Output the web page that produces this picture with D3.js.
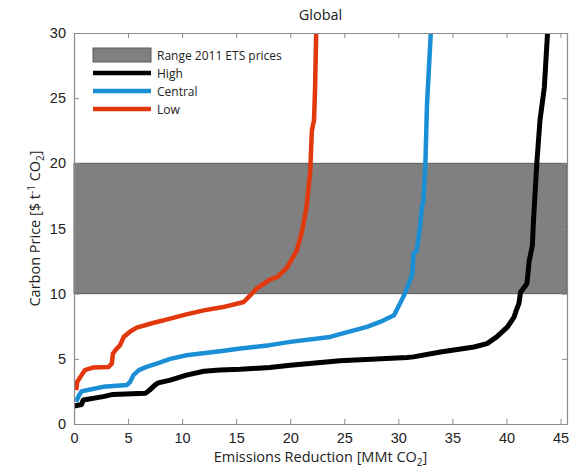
<!DOCTYPE html>
<html>
<head>
<meta charset="utf-8">
<script src="https://cdn.jsdelivr.net/npm/d3@7"></script>
<style>
  body { margin: 0; background: #fff; }
  svg text { font-family: "Open Sans", "Noto Sans", sans-serif; fill: #222; }
  .tick-label { font-family: "Liberation Sans", Arial, sans-serif; font-size: 14.5px; }
</style>
</head>
<body>
<div id="chart"></div>
<script>
// Dữ liệu (x = giảm phát thải MMt CO2, y = giá carbon $/t CO2)
const seriesNames = ['High', 'Central', 'Low'];
const seriesColors = ['#000000', '#1a8fd5', '#e2380e'];

const highX = [0, 0.7, 0.86, 2.7, 3.6, 6.6, 7.0, 7.5, 7.8, 8.9, 10.4, 12.0, 13.5, 15.4, 18.1, 20.0, 24.6, 30.8, 31.4, 33.9, 37.0, 38.2, 39.1, 40.1, 40.7, 40.9, 41.15, 41.3, 41.75, 41.9, 42.1, 42.4, 42.5, 42.8, 43.1, 43.5, 43.8];
const highY = [1.38, 1.5, 1.84, 2.1, 2.27, 2.35, 2.6, 3.0, 3.16, 3.37, 3.75, 4.05, 4.15, 4.2, 4.34, 4.5, 4.85, 5.1, 5.15, 5.53, 5.91, 6.17, 6.68, 7.45, 8.2, 8.7, 9.23, 10.1, 10.6, 10.8, 12.5, 13.7, 15.6, 19.9, 23.3, 25.8, 30];

const centralX = [0.2, 0.4, 0.7, 1.5, 2.7, 4.9, 5.2, 5.5, 6.0, 6.7, 7.65, 8.9, 10.4, 13.5, 15.4, 18.1, 20.0, 23.7, 24.6, 27.1, 28.3, 29.6, 30.3, 30.6, 31.3, 31.4, 31.7, 32.0, 32.2, 32.3, 32.5, 32.65, 33.0];
const centralY = [1.7, 2.1, 2.5, 2.65, 2.85, 3.0, 3.24, 3.75, 4.13, 4.38, 4.64, 5.0, 5.28, 5.59, 5.79, 6.05, 6.3, 6.68, 6.89, 7.45, 7.83, 8.34, 9.49, 10.0, 11.5, 13.06, 13.3, 15.1, 16.8, 16.9, 19.9, 24.5, 30];

const lowX = [0.2, 0.3, 0.7, 1.0, 1.8, 3.2, 3.5, 3.6, 3.95, 4.26, 4.6, 5.2, 5.8, 7.3, 8.9, 10.4, 12.0, 13.8, 15.7, 16.3, 16.9, 17.2, 18.1, 18.8, 19.7, 20.6, 21.1, 21.5, 21.85, 22.0, 22.2, 22.3, 22.4];
const lowY = [2.6, 3.24, 3.75, 4.13, 4.34, 4.38, 4.64, 5.4, 5.79, 6.04, 6.68, 7.1, 7.4, 7.75, 8.08, 8.41, 8.72, 8.97, 9.36, 9.87, 10.4, 10.56, 11.07, 11.27, 12.0, 13.3, 14.8, 16.6, 19.4, 22.5, 23.3, 25.8, 30];

const etsRange = [10, 20];
const xTicks = [0, 5, 10, 15, 20, 25, 30, 35, 40, 45];
const yTicks = [0, 5, 10, 15, 20, 25, 30];

const width = 569, height = 472;
const margin = { left: 74, right: 2, top: 33, bottom: 48 };

const svg = d3.select('#chart').append('svg')
    .attr('width', width)
    .attr('height', height);

// Thang đo
const x = d3.scaleLinear().domain([0, 45.6]).range([margin.left, width - margin.right]);
const y = d3.scaleLinear().domain([0, 30]).range([height - margin.bottom, margin.top]);

// Vùng giá ETS 2011
svg.append('rect')
    .attr('x', x(0))
    .attr('y', y(etsRange[1]))
    .attr('width', x(45.6) - x(0))
    .attr('height', y(etsRange[0]) - y(etsRange[1]))
    .attr('fill', '#808080')
    .attr('stroke', '#5a5a5a')
    .attr('stroke-width', 1);

// Các đường cong
svg.append('clipPath').attr('id', 'plot-clip')
    .append('rect')
    .attr('x', x(0)).attr('y', y(30))
    .attr('width', x(45.6) - x(0)).attr('height', y(0) - y(30));

const seriesData = [
    highX.map((v, i) => [v, highY[i]]),
    centralX.map((v, i) => [v, centralY[i]]),
    lowX.map((v, i) => [v, lowY[i]])
];

const line = d3.line().x(d => x(d[0])).y(d => y(d[1]));

svg.append('g').attr('clip-path', 'url(#plot-clip)')
    .selectAll('path')
    .data(seriesData)
    .enter()
    .append('path')
    .attr('d', line)
    .attr('fill', 'none')
    .attr('stroke', (d, i) => seriesColors[i])
    .attr('stroke-width', (d, i) => i === 0 ? 5 : 4.5)
    .attr('stroke-linejoin', 'round');

// Khung và trục (vạch chia hướng vào trong)
const axisColor = '#8c8c8c';
const xAxisBottom = svg.append('g')
    .attr('transform', `translate(0,${y(0)})`)
    .call(d3.axisBottom(x).tickValues(xTicks).tickSizeInner(-5).tickSizeOuter(0).tickPadding(9));
const yAxisLeft = svg.append('g')
    .attr('transform', `translate(${x(0)},0)`)
    .call(d3.axisLeft(y).tickValues(yTicks).tickSizeInner(-5).tickSizeOuter(0).tickPadding(8));
const xAxisTop = svg.append('g')
    .attr('transform', `translate(0,${y(30)})`)
    .call(d3.axisTop(x).tickValues(xTicks).tickSizeInner(-5).tickSizeOuter(0).tickFormat(''));
const yAxisRight = svg.append('g')
    .attr('transform', `translate(${x(45.6)},0)`)
    .call(d3.axisRight(y).tickValues(yTicks).tickSizeInner(-5).tickSizeOuter(0).tickFormat(''));

[xAxisBottom, yAxisLeft, xAxisTop, yAxisRight].forEach(g => {
    g.select('.domain').attr('stroke', axisColor).attr('stroke-width', 1.2);
    g.selectAll('.tick line').attr('stroke', axisColor);
    g.selectAll('.tick text').attr('class', 'tick-label').attr('fill', '#222');
});

// Tiêu đề và nhãn trục
svg.append('text')
    .attr('x', (x(0) + x(45.6)) / 2)
    .attr('y', 20)
    .attr('text-anchor', 'middle')
    .attr('font-size', 14.5)
    .text('Global');

const xLabel = svg.append('text')
    .attr('x', (x(0) + x(45.6)) / 2)
    .attr('y', 462)
    .attr('text-anchor', 'middle')
    .attr('font-size', 14.5);
xLabel.append('tspan').text('Emissions Reduction [MMt CO');
xLabel.append('tspan').attr('font-size', 10).attr('dy', 4).text('2');
xLabel.append('tspan').attr('dy', -4).text(']');

const yLabel = svg.append('text')
    .attr('transform', `translate(40,${(y(0) + y(30)) / 2}) rotate(-90)`)
    .attr('text-anchor', 'middle')
    .attr('font-size', 14.5);
yLabel.append('tspan').text('Carbon Price [$ t');
yLabel.append('tspan').attr('font-size', 10).attr('dy', -5).text('-1');
yLabel.append('tspan').attr('dy', 5).text(' CO');
yLabel.append('tspan').attr('font-size', 10).attr('dy', 4).text('2');
yLabel.append('tspan').attr('dy', -4).text(']');

// Chú thích
const legend = svg.append('g').attr('transform', 'translate(93,48)');
legend.append('rect')
    .attr('x', 0).attr('y', 0).attr('width', 58).attr('height', 14)
    .attr('fill', '#808080').attr('stroke', '#5a5a5a');
legend.append('text')
    .attr('x', 64).attr('y', 7).attr('dominant-baseline', 'central')
    .attr('font-size', 12).text('Range 2011 ETS prices');

seriesNames.forEach((name, i) => {
    const ly = 25 + i * 18;
    legend.append('line')
        .attr('x1', 0).attr('x2', 58).attr('y1', ly).attr('y2', ly)
        .attr('stroke', seriesColors[i]).attr('stroke-width', 4.5);
    legend.append('text')
        .attr('x', 64).attr('y', ly).attr('dominant-baseline', 'central')
        .attr('font-size', 12).text(name);
});
</script>
</body>
</html>
